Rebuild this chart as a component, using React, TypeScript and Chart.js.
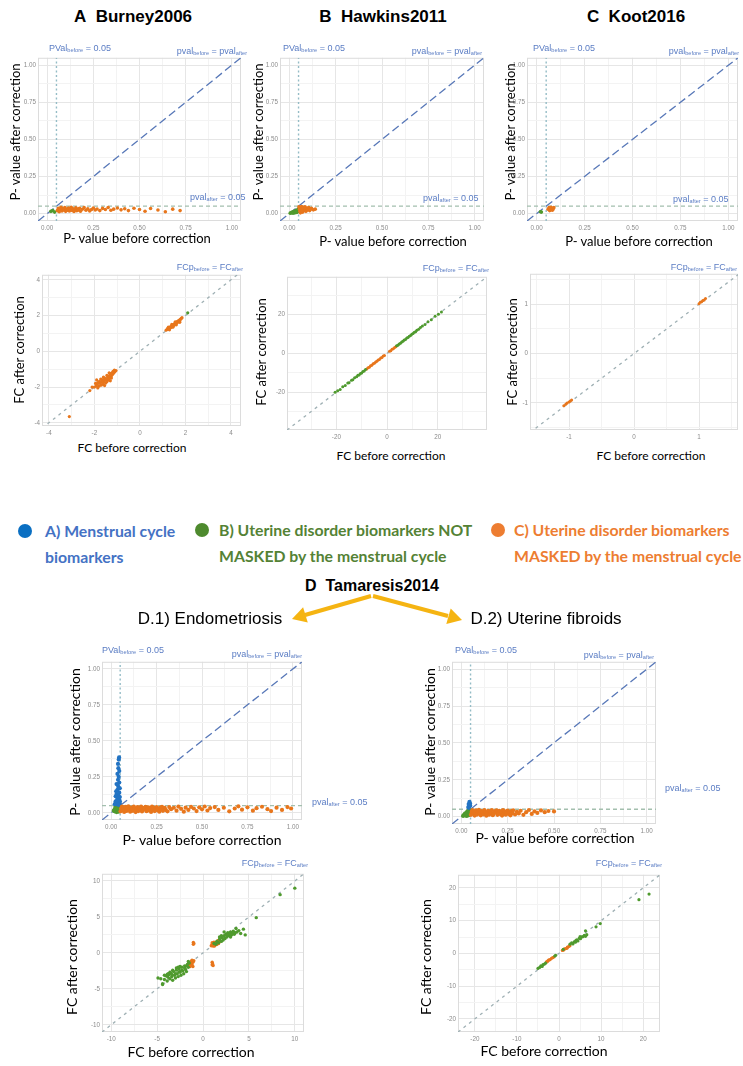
import React, { useEffect, useRef } from 'react';
import { Chart, registerables } from 'chart.js';
Chart.register(...registerables);

type P = [number, number];

// ---------- colours ----------
const ORANGE = '#e8761c';
const GREEN = '#4f9a2e';
const BLUE = '#2273c3';
const ANNOT = '#5b7dc4';

// ---------- ticks ----------
const pMajor = [0, 0.25, 0.5, 0.75, 1];
const pMinor = [0.125, 0.375, 0.625, 0.875];
const aFcMajor = [-4, -2, 0, 2, 4];
const aFcMinor = [-3, -1, 1, 3];
const bFcMajor = [-20, 0, 20];
const bFcMinor = [-30, -10, 10, 30];
const cFcMajor = [-1, 0, 1];
const cFcMinor = [-1.5, -0.5, 0.5, 1.5];
const d1FcMajor = [-10, -5, 0, 5, 10];
const d1FcMinor = [-7.5, -2.5, 2.5, 7.5];
const d2FcMajor = [-20, -10, 0, 10, 20];
const d2FcMinor = [-15, -5, 5, 15];

const pThreshold = 0.05;

// ---------- A Burney2006 ----------
const aPOrange: P[] = [[0.055,0.02],[0.06,0.035],[0.065,0.012],[0.07,0.028],[0.075,0.042],[0.08,0.018],[0.085,0.033],[0.09,0.025],[0.095,0.04],[0.1,0.015],[0.105,0.03],[0.11,0.022],[0.115,0.038],[0.12,0.017],[0.125,0.028],[0.13,0.043],[0.135,0.021],[0.14,0.032],[0.145,0.014],[0.15,0.026],[0.155,0.039],[0.16,0.019],[0.165,0.031],[0.17,0.024],[0.175,0.036],[0.18,0.016],[0.19,0.029],[0.2,0.04],[0.21,0.022],[0.22,0.033],[0.23,0.018],[0.24,0.027],[0.25,0.038],[0.26,0.024],[0.27,0.031],[0.285,0.02],[0.3,0.035],[0.315,0.027],[0.33,0.041],[0.345,0.022],[0.36,0.03],[0.38,0.038],[0.4,0.025],[0.42,0.033],[0.44,0.02],[0.47,0.036],[0.5,0.028],[0.53,0.016],[0.56,0.034],[0.6,0.024],[0.64,0.012],[0.68,0.03],[0.72,0.02]];
const aPGreen: P[] = [[0.02,0.015],[0.03,0.02],[0.04,0.01]];
const aFcOrange: P[] = [[1.15,1.18],[1.2,1.22],[1.22,1.28],[1.25,1.24],[1.28,1.32],[1.3,1.28],[1.33,1.36],[1.35,1.32],[1.38,1.4],[1.4,1.36],[1.42,1.45],[1.45,1.4],[1.48,1.5],[1.5,1.45],[1.52,1.55],[1.55,1.5],[1.58,1.6],[1.6,1.56],[1.63,1.66],[1.66,1.62],[1.68,1.7],[1.7,1.66],[1.73,1.75],[1.76,1.72],[1.78,1.8],[1.82,1.84],[1.85,1.88],[1.3,1.2],[1.45,1.35],[1.6,1.48],[1.75,1.62],[1.25,1.35],[1.4,1.5],[1.55,1.65],[-1.05,-1.08],[-1.1,-1.15],[-1.12,-1.05],[-1.15,-1.22],[-1.18,-1.12],[-1.2,-1.3],[-1.22,-1.2],[-1.25,-1.38],[-1.28,-1.25],[-1.3,-1.45],[-1.32,-1.32],[-1.35,-1.55],[-1.38,-1.4],[-1.4,-1.62],[-1.42,-1.48],[-1.45,-1.7],[-1.48,-1.55],[-1.5,-1.78],[-1.52,-1.62],[-1.55,-1.5],[-1.58,-1.7],[-1.6,-1.85],[-1.62,-1.58],[-1.65,-1.75],[-1.68,-1.65],[-1.7,-1.9],[-1.72,-1.55],[-1.75,-1.8],[-1.78,-1.68],[-1.8,-1.95],[-1.85,-1.75],[-1.88,-1.85],[-1.9,-1.6],[-1.92,-1.95],[-1.95,-1.8],[-2.0,-2.0],[-1.3,-1.65],[-1.45,-1.35],[-1.6,-1.45],[-1.25,-1.5],[-1.55,-1.92],[-1.35,-1.2],[-1.85,-2.05],[-2.1,-2.0],[-2.2,-2.2],[-3.1,-3.65]];
const aFcGreen: P[] = [[2.1,2.15]];

// ---------- B Hawkins2011 ----------
const bPGreen: P[] = [[0.005,0.003],[0.01,0.005],[0.015,0.01],[0.02,0.008],[0.025,0.015],[0.03,0.012],[0.035,0.02],[0.04,0.018],[0.045,0.025],[0.03,0.005],[0.04,0.008],[0.045,0.012],[0.02,0.003],[0.048,0.03],[0.035,0.01]];
const bPOrange: P[] = [[0.052,0.045],[0.055,0.03],[0.058,0.015],[0.06,0.04],[0.063,0.025],[0.066,0.048],[0.07,0.035],[0.072,0.01],[0.075,0.028],[0.078,0.042],[0.08,0.02],[0.085,0.045],[0.088,0.032],[0.09,0.015],[0.095,0.038],[0.1,0.025],[0.105,0.04],[0.11,0.02],[0.115,0.03],[0.12,0.035],[0.13,0.025],[0.14,0.03],[0.06,0.005],[0.068,0.018]];
const bFcGreen: P[] = [[-20.5,-20],[-19.5,-19.3],[-18.5,-18.6],[-17.5,-17.2],[-16.5,-16.6],[-15.5,-15.3],[-15,-15.1],[-14,-13.8],[-13.5,-13.6],[-12.8,-12.6],[-12,-12.1],[-11.5,-11.3],[-11,-11.1],[-10.5,-10.4],[-10,-10.1],[-9.5,-9.4],[-9,-9.1],[-8.5,-8.3],[3.8,3.9],[4.3,4.2],[4.8,4.9],[5.3,5.2],[5.8,5.9],[6.3,6.2],[6.8,6.9],[7.3,7.2],[7.8,7.9],[8.3,8.2],[8.8,8.9],[9.3,9.2],[9.8,9.9],[10.3,10.2],[10.8,10.9],[11.3,11.2],[11.8,11.9],[12.5,12.4],[13.2,13.3],[14,14.1],[15,14.9],[16.2,16.3],[17.5,17.4],[19,19.1],[20.3,20.2],[21.5,21.4]];
const bFcOrange: P[] = [[-8,-8.1],[-7.5,-7.4],[-7,-7.1],[-6.5,-6.4],[-6,-6.1],[-5.5,-5.4],[-5,-5.1],[-4.5,-4.4],[-4,-4.1],[-3.5,-3.4],[-3,-3.1],[-2.5,-2.4],[-2,-2.1],[-1.5,-1.4],[-1,-1.1],[1,1.1],[1.5,1.4],[2,2.1],[2.5,2.4],[3,3.1],[3.5,3.4]];

// ---------- C Koot2016 ----------
const cPOrange: P[] = [[0.06,0.03],[0.065,0.04],[0.07,0.025],[0.072,0.035],[0.075,0.042],[0.078,0.028],[0.08,0.035],[0.085,0.03],[0.09,0.04],[0.068,0.02],[0.082,0.022]];
const cPGreen: P[] = [[0.02,0.012],[0.025,0.01]];
const cFcOrange: P[] = [[-1.08,-1.06],[-1.05,-1.03],[-1.03,-1.0],[-1.0,-0.98],[-0.98,-0.96],[-0.96,-0.94],[1.0,1.01],[1.02,1.04],[1.04,1.05],[1.06,1.08],[1.08,1.09],[1.1,1.12]];

// ---------- D.1 Endometriosis ----------
const d1PBlue: P[] = [[0.03,0.06],[0.04,0.07],[0.045,0.09],[0.035,0.1],[0.025,0.08],[0.04,0.12],[0.03,0.13],[0.045,0.14],[0.035,0.16],[0.04,0.18],[0.03,0.2],[0.045,0.21],[0.038,0.23],[0.042,0.25],[0.035,0.27],[0.045,0.29],[0.04,0.31],[0.038,0.34],[0.042,0.37],[0.044,0.385],[0.02,0.06],[0.048,0.065],[0.048,0.11],[0.025,0.115],[0.048,0.17],[0.028,0.15],[0.048,0.08],[0.033,0.085],[0.042,0.055],[0.036,0.195]];
const d1PGreen: P[] = [[0.02,0.01],[0.03,0.02],[0.04,0.03],[0.025,0.035],[0.035,0.045],[0.045,0.015],[0.045,0.04],[0.03,0.005],[0.04,0.008],[0.02,0.025],[0.035,0.03],[0.048,0.025],[0.015,0.015],[0.025,0.045],[0.045,0.048]];
const d1POrange: P[] = [[0.052,0.01],[0.056,0.03],[0.06,0.043],[0.064,0.018],[0.068,0.036],[0.072,0.006],[0.076,0.025],[0.08,0.041],[0.085,0.013],[0.09,0.032],[0.095,0.045],[0.1,0.02],[0.105,0.008],[0.11,0.037],[0.115,0.027],[0.12,0.014],[0.125,0.043],[0.13,0.03],[0.135,0.005],[0.14,0.022],[0.145,0.039],[0.15,0.012],[0.155,0.033],[0.16,0.026],[0.165,0.044],[0.17,0.009],[0.175,0.019],[0.18,0.035],[0.185,0.028],[0.19,0.042],[0.195,0.011],[0.2,0.024],[0.205,0.038],[0.21,0.016],[0.215,0.031],[0.22,0.006],[0.225,0.044],[0.23,0.021],[0.235,0.034],[0.24,0.012],[0.245,0.027],[0.25,0.04],[0.255,0.018],[0.26,0.03],[0.265,0.008],[0.27,0.037],[0.275,0.023],[0.28,0.042],[0.285,0.014],[0.29,0.029],[0.295,0.035],[0.3,0.02],[0.31,0.01],[0.32,0.04],[0.33,0.025],[0.345,0.035],[0.36,0.015],[0.37,0.043],[0.385,0.028],[0.4,0.008],[0.41,0.036],[0.425,0.02],[0.44,0.041],[0.455,0.03],[0.47,0.012],[0.485,0.038],[0.5,0.024],[0.515,0.044],[0.53,0.016],[0.545,0.033],[0.57,0.04],[0.59,0.02],[0.62,0.035],[0.65,0.01],[0.68,0.03],[0.7,0.045],[0.72,0.022],[0.75,0.038],[0.78,0.015],[0.8,0.032],[0.83,0.042],[0.86,0.025],[0.88,0.012],[0.91,0.036],[0.94,0.02],[0.97,0.04],[0.99,0.03]];
const d1FcGreen: P[] = [[-4.6,-3.6],[-4.4,-4.3],[-4.2,-3.7],[-4.0,-3.2],[-3.9,-3.9],[-3.8,-3.4],[-3.7,-3.0],[-3.6,-3.6],[-3.5,-2.8],[-3.4,-3.3],[-3.3,-3.8],[-3.2,-2.6],[-3.1,-3.1],[-3.0,-3.5],[-2.9,-2.4],[-2.8,-2.9],[-2.7,-3.3],[-2.6,-2.2],[-2.5,-2.7],[-2.4,-3.1],[-2.3,-2.0],[-2.2,-2.5],[-2.1,-2.9],[-2.0,-1.8],[-1.9,-2.3],[-1.8,-2.6],[-1.7,-1.6],[-1.6,-2.0],[-1.5,-1.4],[-3.6,-2.7],[-3.3,-2.4],[-2.9,-2.1],[-3.0,-2.9],[-2.6,-2.6],[-2.3,-2.4],[-2.7,-2.0],[-3.8,-2.9],[-4.2,-3.1],[-3.4,-3.0],[-2.0,-2.1],[-1.8,-1.8],[-2.5,-1.9],[-4.4,-4.4],[-4.9,-3.5],[-1.6,-1.2],[-3.9,-3.0],[1.2,1.3],[1.4,1.2],[1.5,1.6],[1.7,1.4],[1.8,1.9],[2.0,1.6],[2.1,2.1],[2.2,1.8],[2.3,2.4],[2.4,2.0],[2.5,2.6],[2.6,2.2],[2.7,2.8],[2.8,2.4],[2.9,2.6],[3.0,2.9],[3.1,2.5],[3.2,2.7],[3.3,3.0],[3.4,2.6],[3.5,2.8],[3.7,2.9],[3.9,3.1],[2.3,2.9],[2.0,2.4],[1.8,2.2],[2.6,2.5],[3.0,2.2],[4.1,2.7],[4.6,2.5],[4.4,3.3],[3.6,3.4],[5.8,4.9],[8.4,8.1],[10,9.0]];
const d1FcOrange: P[] = [[-1.5,-1.8],[-1.4,-1.5],[-1.3,-1.2],[-1.2,-1.6],[-1.1,-1.3],[-1.0,-1.1],[-1.2,-1.0],[-1.4,-1.9],[-1.6,-1.5],[-1.1,-1.9],[-1.05,1.2],[-1.05,1.45],[-1.0,1.3],[1.0,-1.3],[1.05,-1.55],[1.1,-1.75],[1.0,-1.65],[0.9,1.0],[1.0,1.2],[1.1,0.95],[1.2,1.5],[1.3,1.1],[1.4,1.4],[1.5,1.15],[1.6,1.7],[1.7,1.3],[1.8,1.6],[1.0,1.4],[1.25,0.95]];

// ---------- D.2 Uterine fibroids ----------
const d2PBlue: P[] = [[0.04,0.06],[0.045,0.07],[0.042,0.08],[0.047,0.09],[0.044,0.1],[0.038,0.065],[0.048,0.075],[0.04,0.085]];
const d2PGreen: P[] = [[0.01,0.005],[0.015,0.012],[0.02,0.02],[0.025,0.008],[0.03,0.03],[0.035,0.015],[0.04,0.04],[0.045,0.025],[0.03,0.005],[0.04,0.01],[0.045,0.045],[0.02,0.01],[0.035,0.035],[0.048,0.03],[0.025,0.022],[0.042,0.02]];
const d2POrange: P[] = [[0.052,0.012],[0.056,0.032],[0.06,0.044],[0.064,0.02],[0.068,0.038],[0.072,0.007],[0.076,0.026],[0.08,0.042],[0.085,0.014],[0.09,0.034],[0.095,0.046],[0.1,0.021],[0.105,0.009],[0.11,0.038],[0.115,0.028],[0.12,0.015],[0.125,0.044],[0.13,0.031],[0.135,0.006],[0.14,0.023],[0.145,0.04],[0.15,0.013],[0.155,0.034],[0.16,0.027],[0.165,0.045],[0.17,0.01],[0.175,0.02],[0.18,0.036],[0.185,0.029],[0.19,0.043],[0.195,0.012],[0.2,0.025],[0.205,0.039],[0.21,0.017],[0.215,0.032],[0.22,0.007],[0.225,0.045],[0.23,0.022],[0.235,0.035],[0.24,0.013],[0.245,0.028],[0.25,0.041],[0.255,0.019],[0.26,0.031],[0.265,0.009],[0.27,0.038],[0.275,0.024],[0.28,0.043],[0.29,0.015],[0.3,0.033],[0.31,0.022],[0.32,0.04],[0.335,0.012],[0.35,0.03],[0.365,0.045],[0.38,0.018],[0.395,0.036],[0.41,0.025],[0.43,0.042],[0.45,0.03],[0.47,0.038],[0.5,0.035]];
const d2FcGreen: P[] = [[-5,-4.6],[-4.6,-4.3],[-4.3,-3.8],[-4.0,-4.0],[-3.8,-3.4],[-3.5,-3.3],[-3.2,-3.0],[-1.0,-0.8],[-0.8,-0.6],[1.0,1.2],[3,3.2],[3.3,2.9],[3.6,3.5],[3.9,3.4],[4.2,4.1],[4.5,3.8],[4.8,4.6],[5.1,4.5],[5.4,5.0],[5.7,5.1],[6.0,5.5],[6.3,5.2],[6.6,5.7],[6.3,6.9],[8.8,8.1],[9.8,9.1],[19,16.4],[21.4,18.1],[2.6,2.8],[4.0,3.9],[5.0,5.1]];
const d2FcOrange: P[] = [[-3.0,-2.6],[-2.7,-2.4],[-2.4,-2.0],[-2.1,-1.9],[-1.8,-1.5],[-1.5,-1.3],[-1.2,-1.1],[-2.6,-2.2],[0.8,0.9],[1.1,1.0],[1.4,1.4],[1.7,1.5],[2.0,1.9],[2.3,2.1],[2.6,2.3],[1.2,1.3],[1.9,1.6]];

// ---------- panel specs ----------
interface Group { data: P[]; color: string; }
interface Spec {
  kind: 'p' | 'fc';
  left: number; top: number; w: number; h: number;
  xMin: number; xMax: number; yMin: number; yMax: number;
  major: number[]; minor: number[];
  groups: Group[];
  r?: number;
}

const P_RANGE = { xMin: -0.05, xMax: 1.05, yMin: -0.05, yMax: 1.05 };

const panels: Spec[] = [
  { kind: 'p', left: 38, top: 55.5, w: 203, h: 165, ...P_RANGE, major: pMajor, minor: pMinor, groups: [{ data: aPOrange, color: ORANGE }, { data: aPGreen, color: GREEN }] },
  { kind: 'p', left: 280, top: 55.5, w: 204, h: 165, ...P_RANGE, major: pMajor, minor: pMinor, groups: [{ data: bPOrange, color: ORANGE }, { data: bPGreen, color: GREEN }] },
  { kind: 'p', left: 527, top: 55.5, w: 211, h: 165, ...P_RANGE, major: pMajor, minor: pMinor, groups: [{ data: cPOrange, color: ORANGE }, { data: cPGreen, color: GREEN }] },
  { kind: 'fc', left: 42, top: 273, w: 199, h: 153, xMin: -4.3, xMax: 4.44, yMin: -4.18, yMax: 4.28, major: aFcMajor, minor: aFcMinor, groups: [{ data: aFcOrange, color: ORANGE }, { data: aFcGreen, color: GREEN }], r: 1.6 },
  { kind: 'fc', left: 287, top: 275, w: 200, h: 155, xMin: -39.5, xMax: 39.5, yMin: -39.5, yMax: 39.5, major: bFcMajor, minor: bFcMinor, groups: [{ data: bFcGreen, color: GREEN }, { data: bFcOrange, color: ORANGE }], r: 1.5 },
  { kind: 'fc', left: 530, top: 272, w: 208, h: 158, xMin: -1.6, xMax: 1.6, yMin: -1.55, yMax: 1.62, major: cFcMajor, minor: cFcMinor, groups: [{ data: cFcOrange, color: ORANGE }], r: 1.5 },
  { kind: 'p', left: 102, top: 660, w: 200, h: 160, ...P_RANGE, major: pMajor, minor: pMinor, groups: [{ data: d1POrange, color: ORANGE }, { data: d1PBlue, color: BLUE }, { data: d1PGreen, color: GREEN }], r: 2.1 },
  { kind: 'p', left: 452, top: 660, w: 204, h: 164, ...P_RANGE, major: pMajor, minor: pMinor, groups: [{ data: d2POrange, color: ORANGE }, { data: d2PBlue, color: BLUE }, { data: d2PGreen, color: GREEN }], r: 2.1 },
  { kind: 'fc', left: 102, top: 872, w: 202, h: 160, xMin: -11, xMax: 11, yMin: -11, yMax: 11, major: d1FcMajor, minor: d1FcMinor, groups: [{ data: d1FcGreen, color: GREEN }, { data: d1FcOrange, color: ORANGE }], r: 1.7 },
  { kind: 'fc', left: 458, top: 873, w: 202, h: 159, xMin: -24, xMax: 24, yMin: -24, yMax: 24, major: d2FcMajor, minor: d2FcMinor, groups: [{ data: d2FcGreen, color: GREEN }, { data: d2FcOrange, color: ORANGE }], r: 1.6 },
];

const PL = 28, PT = 4, PR = 6, PB = 12;

const frame = {
  id: 'frame',
  beforeDatasetsDraw(chart: any) {
    const { ctx, chartArea: a } = chart;
    ctx.save();
    ctx.strokeStyle = '#dcdcdc';
    ctx.lineWidth = 1;
    ctx.strokeRect(a.left + 0.5, a.top + 0.5, a.width - 1, a.height - 1);
    ctx.restore();
  },
};

const near = (arr: number[], v: number) => arr.some((m) => Math.abs(m - v) < 1e-9);

function Panel({ s }: { s: Spec }) {
  const ref = useRef<HTMLCanvasElement>(null);
  useEffect(() => {
    if (!ref.current) return;
    const ticks = [...s.major, ...s.minor].sort((a, b) => a - b);
    const fmt = (v: number) => (s.kind === 'p' ? v.toFixed(2) : String(v));
    const r = s.r ?? 1.8;
    const datasets: any[] = s.groups.map((g) => ({
      data: g.data.map(([x, y]) => ({ x, y })),
      backgroundColor: g.color,
      borderWidth: 0,
      pointRadius: r,
      pointHoverRadius: r,
      order: 1,
    }));
    if (s.kind === 'p') {
      datasets.push({
        data: [{ x: s.xMin, y: s.yMin }, { x: s.xMax, y: s.yMax }],
        showLine: true, pointRadius: 0, borderColor: '#5878b8', borderWidth: 1.3, borderDash: [8, 4], order: 2,
      });
      datasets.push({
        data: [{ x: pThreshold, y: s.yMin }, { x: pThreshold, y: s.yMax }],
        showLine: true, pointRadius: 0, borderColor: '#94bcc6', borderWidth: 1.4, borderDash: [2, 2.5], order: 2,
      });
      datasets.push({
        data: [{ x: s.xMin, y: pThreshold }, { x: s.xMax, y: pThreshold }],
        showLine: true, pointRadius: 0, borderColor: '#a3bfae', borderWidth: 1.3, borderDash: [4, 3], order: 2,
      });
    } else {
      datasets.push({
        data: [{ x: Math.min(s.xMin, s.yMin), y: Math.min(s.xMin, s.yMin) }, { x: Math.max(s.xMax, s.yMax), y: Math.max(s.xMax, s.yMax) }],
        showLine: true, pointRadius: 0, borderColor: '#9fb0b4', borderWidth: 1.3, borderDash: [3, 4], order: 2,
      });
    }
    const axis = (min: number, max: number, isX: boolean) => ({
      type: 'linear', min, max,
      afterBuildTicks: (sc: any) => { sc.ticks = ticks.map((v) => ({ value: v })); },
      afterFit: (sc: any) => { if (isX) sc.height = PB; else sc.width = PL; },
      grid: {
        color: (c: any) => (c.tick && near(s.major, c.tick.value) ? '#e6e6e6' : '#f3f3f3'),
        lineWidth: 1, drawTicks: false,
      },
      border: { display: false },
      ticks: {
        autoSkip: false, maxRotation: 0, padding: isX ? 3 : 2,
        font: { size: 6.3, family: 'Liberation Sans' }, color: '#8c8c8c',
        callback: (v: number) => (near(s.major, v) ? fmt(v) : ''),
      },
    });
    const chart = new Chart(ref.current, {
      type: 'scatter',
      data: { datasets },
      options: {
        animation: false, responsive: false, maintainAspectRatio: false,
        events: [],
        layout: { padding: { left: 0, top: PT, right: PR, bottom: 0 } },
        plugins: { legend: { display: false }, tooltip: { enabled: false } },
        scales: { x: axis(s.xMin, s.xMax, true) as any, y: axis(s.yMin, s.yMax, false) as any },
      },
      plugins: [frame],
    });
    return () => chart.destroy();
  }, [s]);
  const W = s.w + PL + PR, H = s.h + PT + PB;
  return (
    <canvas ref={ref} width={W} height={H}
      style={{ position: 'absolute', left: s.left - PL, top: s.top - PT, width: W, height: H }} />
  );
}

const ARIAL = '"Liberation Sans", Arial, sans-serif';
const CAL = 'Lato, "Open Sans", sans-serif';

function T(props: { x: number; y: number; children: any; size?: number; family?: string; weight?: number; color?: string; anchor?: 'start' | 'middle' | 'end'; rotate?: boolean }) {
  const { x, y, children, size = 12, family = ARIAL, weight = 400, color = '#000', anchor = 'middle', rotate = false } = props;
  const tx = anchor === 'middle' ? '-50%' : anchor === 'end' ? '-100%' : '0';
  return (
    <div style={{
      position: 'absolute', left: x, top: y, whiteSpace: 'nowrap', lineHeight: 1,
      transform: rotate ? 'translate(-50%,-50%) rotate(-90deg)' : `translate(${tx},-50%)`,
      fontSize: size, fontFamily: family, fontWeight: weight, color,
    }}>{children}</div>
  );
}

const subStyle: React.CSSProperties = { fontSize: '0.62em', verticalAlign: '-0.3em', lineHeight: 0 };
const Sub = ({ t }: { t: string }) => <span style={subStyle}>{t}</span>;

const PvalBefore = () => <>PVal<Sub t="before" /> = 0.05</>;
const PvalEq = () => <>pval<Sub t="before" /> = pval<Sub t="after" /></>;
const PvalAfter = () => <>pval<Sub t="after" /> = 0.05</>;
const FcEq = () => <>FCp<Sub t="before" /> = FC<Sub t="after" /></>;

const AN = 9;
const LEG = 15.8;

export default function App() {
  return (
    <div style={{ position: 'absolute', left: 0, top: 0, width: 743, height: 1066, background: '#fff', overflow: 'hidden' }}>
      {panels.map((s, i) => <Panel key={i} s={s} />)}

      {/* titles */}
      <T x={133} y={16} size={17} weight={700}>A&nbsp;&nbsp;Burney2006</T>
      <T x={383} y={16} size={17} weight={700}>B&nbsp;&nbsp;Hawkins2011</T>
      <T x={636} y={16} size={17} weight={700}>C&nbsp;&nbsp;Koot2016</T>

      {/* p-value annotations top row */}
      <T x={49} y={48} size={AN} color={ANNOT} anchor="start"><PvalBefore /></T>
      <T x={247} y={51} size={AN} color={ANNOT} anchor="end"><PvalEq /></T>
      <T x={190} y={197} size={AN} color={ANNOT} anchor="start"><PvalAfter /></T>
      <T x={283} y={48} size={AN} color={ANNOT} anchor="start"><PvalBefore /></T>
      <T x={482} y={51} size={AN} color={ANNOT} anchor="end"><PvalEq /></T>
      <T x={423} y={198} size={AN} color={ANNOT} anchor="start"><PvalAfter /></T>
      <T x={533} y={48} size={AN} color={ANNOT} anchor="start"><PvalBefore /></T>
      <T x={739} y={51} size={AN} color={ANNOT} anchor="end"><PvalEq /></T>
      <T x={673} y={199} size={AN} color={ANNOT} anchor="start"><PvalAfter /></T>

      {/* FC annotations top */}
      <T x={243} y={267} size={AN} color={ANNOT} anchor="end"><FcEq /></T>
      <T x={489} y={268} size={AN} color={ANNOT} anchor="end"><FcEq /></T>
      <T x={737} y={267} size={AN} color={ANNOT} anchor="end"><FcEq /></T>

      {/* axis titles top */}
      <T x={15} y={132} size={13} family={CAL} rotate>P- value after correction</T>
      <T x={258} y={132} size={13} family={CAL} rotate>P- value after correction</T>
      <T x={510} y={132} size={13} family={CAL} rotate>P- value after correction</T>
      <T x={137} y={238} size={13} family={CAL}>P- value before correction</T>
      <T x={393} y={241} size={13} family={CAL}>P- value before correction</T>
      <T x={639} y={241} size={13} family={CAL}>P- value before correction</T>
      <T x={19} y={350} size={13} family={CAL} rotate>FC after correction</T>
      <T x={261} y={352} size={13} family={CAL} rotate>FC after correction</T>
      <T x={512} y={352} size={13} family={CAL} rotate>FC after correction</T>
      <T x={132} y={448} size={12} family={CAL}>FC before correction</T>
      <T x={391} y={456} size={12} family={CAL}>FC before correction</T>
      <T x={651} y={456} size={12} family={CAL}>FC before correction</T>

      {/* legend */}
      <div style={{ position: 'absolute', left: 18, top: 524, width: 14, height: 14, borderRadius: 7, background: '#0a6fc2' }} />
      <div style={{ position: 'absolute', left: 195, top: 523, width: 14, height: 14, borderRadius: 7, background: '#4e8a2e' }} />
      <div style={{ position: 'absolute', left: 491, top: 523, width: 14, height: 14, borderRadius: 7, background: '#ed7d31' }} />
      <T x={45} y={531} size={LEG} family={CAL} weight={700} color="#4472c4" anchor="start">A) Menstrual cycle</T>
      <T x={45} y={557} size={LEG} family={CAL} weight={700} color="#4472c4" anchor="start">biomarkers</T>
      <T x={219} y={530} size={LEG} family={CAL} weight={700} color="#548235" anchor="start">B) Uterine disorder biomarkers NOT</T>
      <T x={219} y={556} size={LEG} family={CAL} weight={700} color="#548235" anchor="start">MASKED by the menstrual cycle</T>
      <T x={514} y={530} size={LEG} family={CAL} weight={700} color="#ed7d31" anchor="start">C) Uterine disorder biomarkers</T>
      <T x={514} y={556} size={LEG} family={CAL} weight={700} color="#ed7d31" anchor="start">MASKED by the menstrual cycle</T>

      {/* D section */}
      <T x={372} y={586} size={16} weight={700}>D&nbsp;&nbsp;Tamaresis2014</T>
      <svg width={743} height={1066} style={{ position: 'absolute', left: 0, top: 0, pointerEvents: 'none' }}>
        <line x1={371} y1={596} x2={305} y2={615} stroke="#f5b412" strokeWidth={4} />
        <polygon points="292,619 307.8,622.6 303.1,607.3" fill="#f5b412" />
        <line x1={373} y1={596} x2={448} y2={616} stroke="#f5b412" strokeWidth={4} />
        <polygon points="462,620 446.3,623.9 450.7,608.5" fill="#f5b412" />
      </svg>
      <T x={210} y={618} size={17}>D.1) Endometriosis</T>
      <T x={546} y={618} size={17}>D.2) Uterine fibroids</T>

      <T x={102} y={650} size={AN} color={ANNOT} anchor="start"><PvalBefore /></T>
      <T x={302} y={654} size={AN} color={ANNOT} anchor="end"><PvalEq /></T>
      <T x={312} y={802} size={AN} color={ANNOT} anchor="start"><PvalAfter /></T>
      <T x={455} y={650} size={AN} color={ANNOT} anchor="start"><PvalBefore /></T>
      <T x={654} y={655} size={AN} color={ANNOT} anchor="end"><PvalEq /></T>
      <T x={665} y={788} size={AN} color={ANNOT} anchor="start"><PvalAfter /></T>
      <T x={308} y={863} size={AN} color={ANNOT} anchor="end"><FcEq /></T>
      <T x={662} y={863} size={AN} color={ANNOT} anchor="end"><FcEq /></T>

      <T x={75} y={742} size={14} family={CAL} rotate>P- value after correction</T>
      <T x={430} y={742} size={14} family={CAL} rotate>P- value after correction</T>
      <T x={202} y={840} size={14} family={CAL}>P- value before correction</T>
      <T x={555} y={838} size={14} family={CAL}>P- value before correction</T>
      <T x={72} y={957} size={14} family={CAL} rotate>FC after correction</T>
      <T x={426} y={957} size={14} family={CAL} rotate>FC after correction</T>
      <T x={191} y={1052} size={14} family={CAL}>FC before correction</T>
      <T x={544} y={1051} size={14} family={CAL}>FC before correction</T>
    </div>
  );
}
